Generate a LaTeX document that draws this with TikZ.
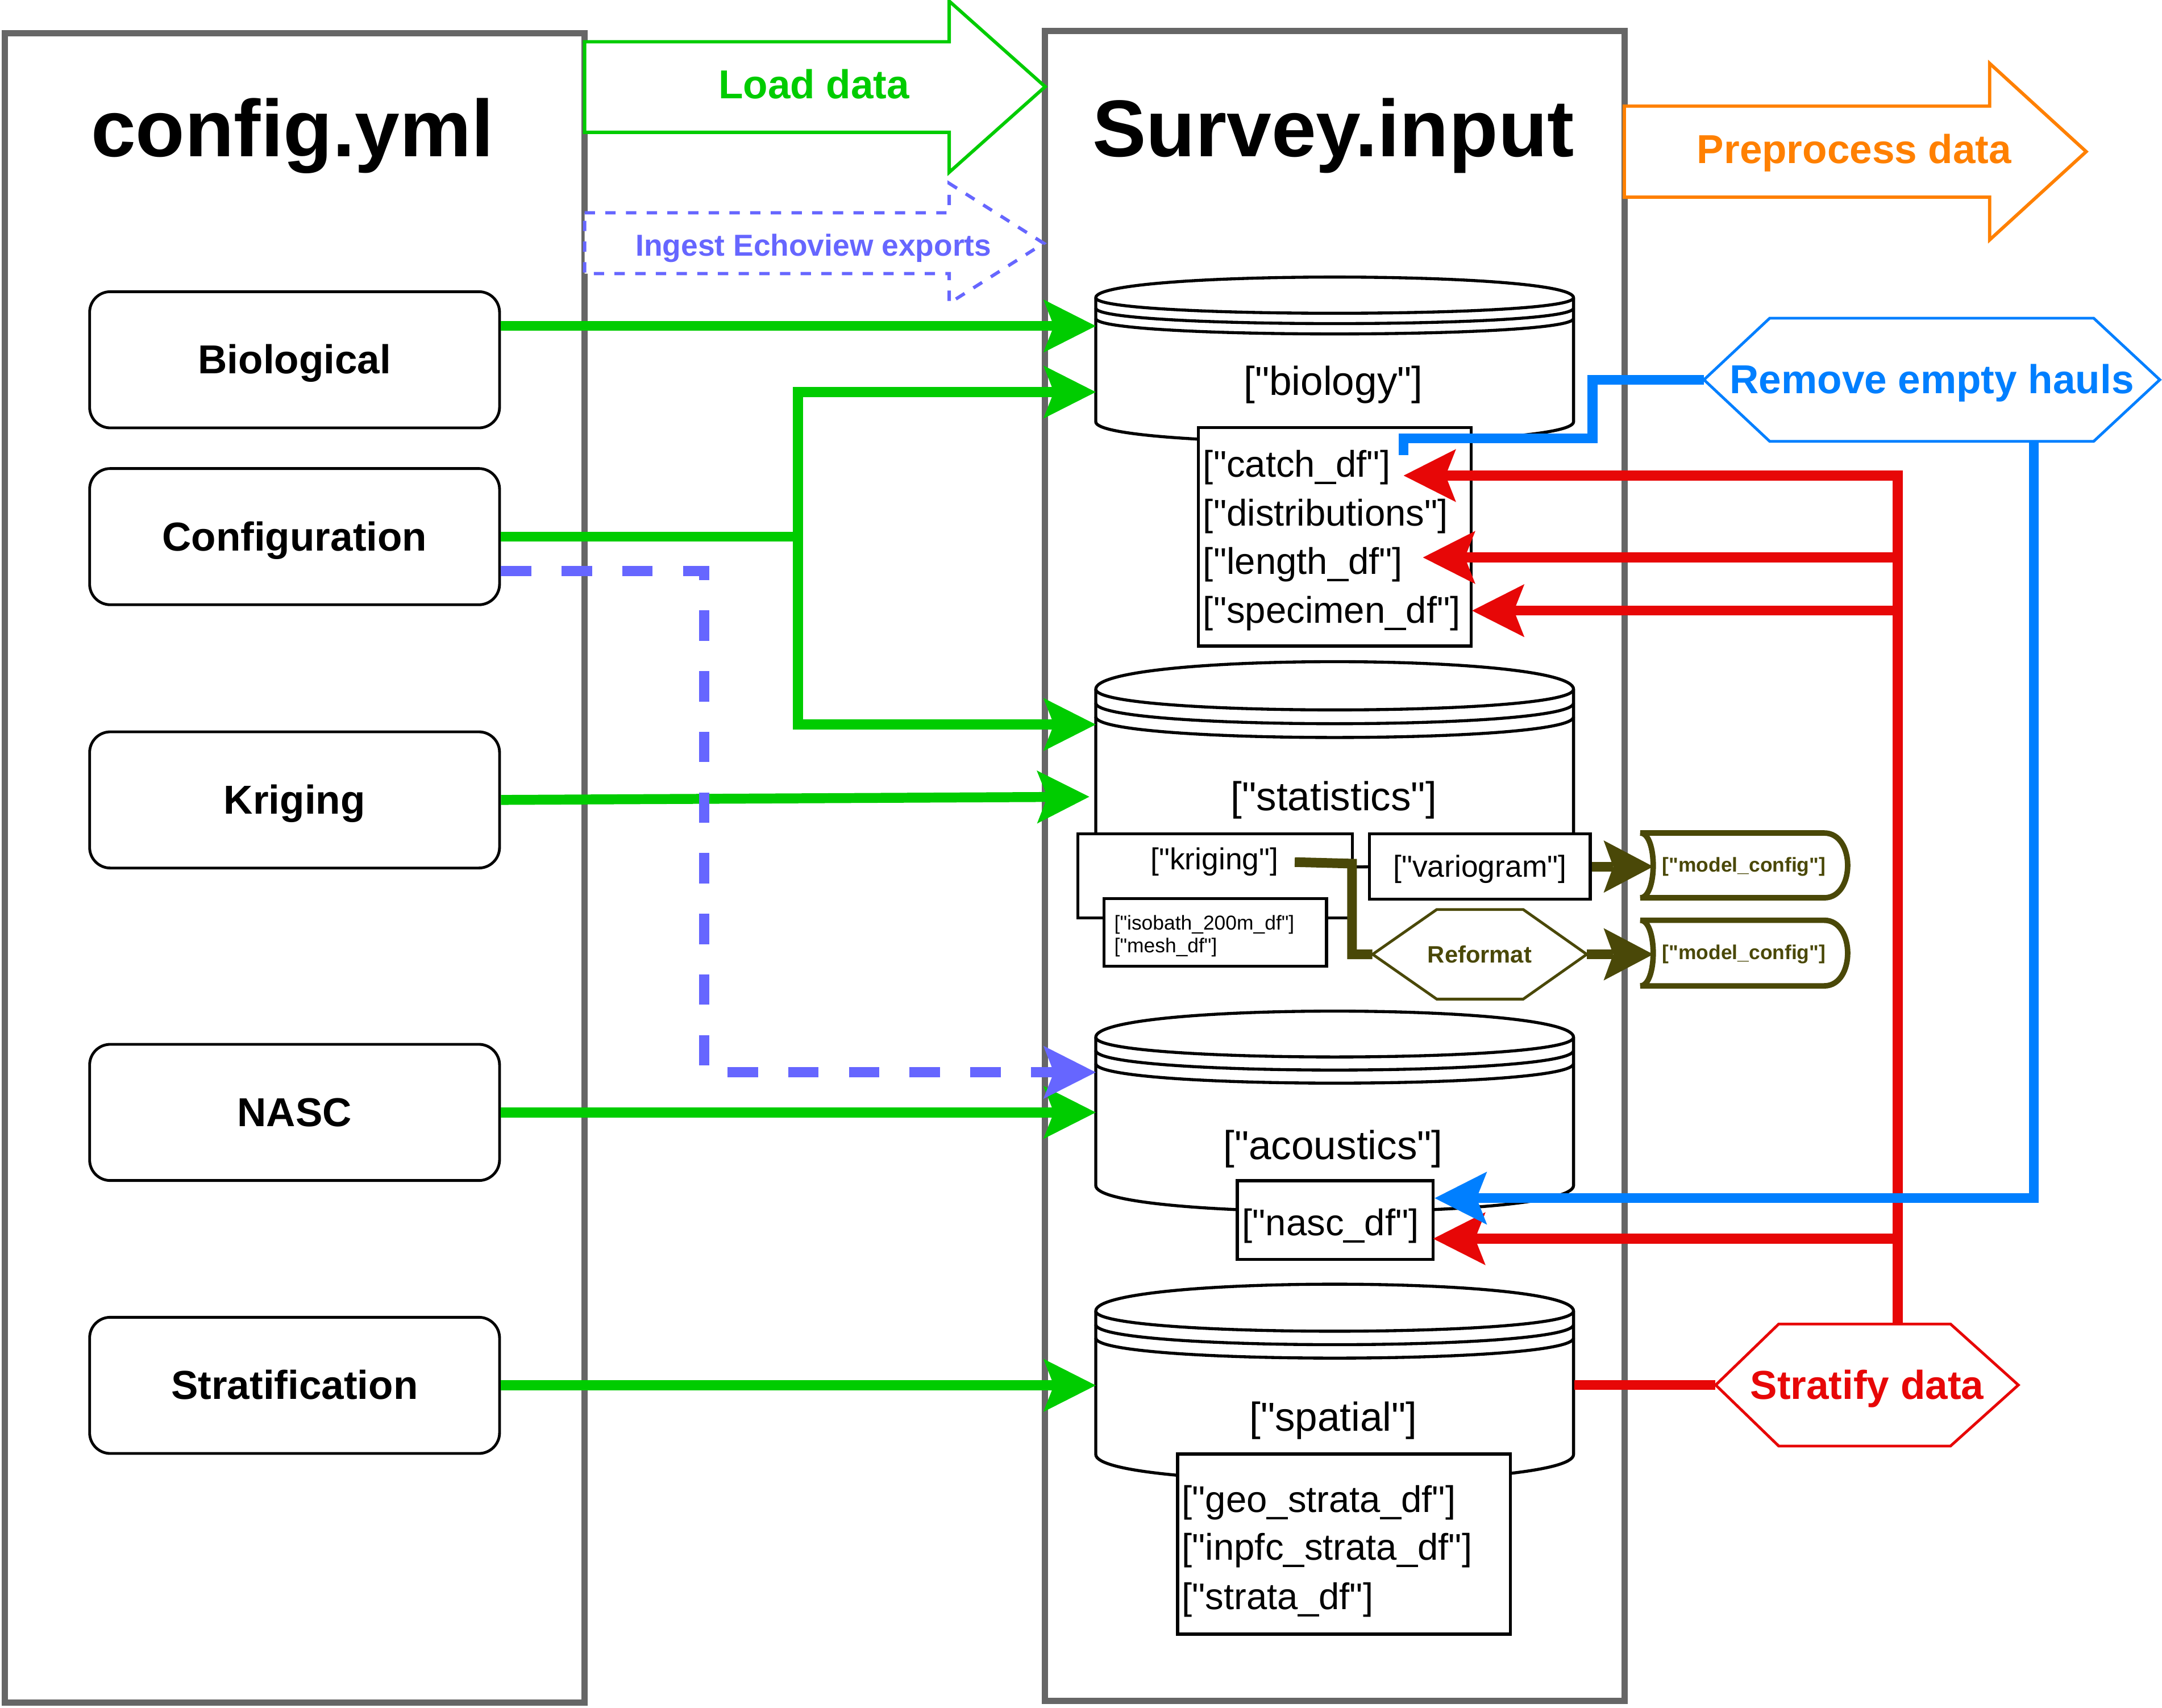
\documentclass[tikz,border=0pt]{standalone}
\usepackage{fontspec}
\setmainfont{Liberation Sans}[Ligatures=TeXOff]
\usetikzlibrary{arrows.meta,calc}
\definecolor{cpanel}{HTML}{666666}
\definecolor{cgreen}{HTML}{00CC00}
\definecolor{cviolet}{HTML}{6666FF}
\definecolor{corange}{HTML}{FF8000}
\definecolor{cblue}{HTML}{007FFF}
\definecolor{cred}{HTML}{E70707}
\definecolor{colive}{HTML}{4A4808}

\newcommand{\dstore}[5]{%
  \draw[cylbody] (#1,#2+#5) .. controls (#1,#2-#5/3) and (#1+#3,#2-#5/3) .. (#1+#3,#2+#5)
     -- (#1+#3,#2+#4-#5) .. controls (#1+#3,#2+#4+#5/3) and (#1,#2+#4+#5/3) .. (#1,#2+#4-#5) -- cycle;
  \draw[cylline] (#1,#2+#5) .. controls (#1,#2+2*#5) and (#1+#3,#2+2*#5) .. (#1+#3,#2+#5);
  \draw[cylline] (#1,#2+1.5*#5) .. controls (#1,#2+2.5*#5) and (#1+#3,#2+2.5*#5) .. (#1+#3,#2+1.5*#5);
  \draw[cylline] (#1,#2+2*#5) .. controls (#1,#2+3*#5) and (#1+#3,#2+3*#5) .. (#1+#3,#2+2*#5);
}

\tikzset{
  panel/.style={draw=cpanel, line width=4.5pt},
  bigarrow/.style={line width=2.4pt, fill=white, line join=miter},
  tbig/.style={font=\bfseries\fontsize{58.4}{70}\selectfont, text height=52.9pt, text depth=12.4pt, inner sep=0pt},
  tb29/.style={font=\bfseries\fontsize{29.3}{35}\selectfont, text height=26.5pt, text depth=6.2pt, inner sep=0pt},
  tr29/.style={font=\fontsize{29.3}{35}\selectfont, text height=26.5pt, text depth=6.2pt, inner sep=0pt},
  tr27/.style={font=\fontsize{26.9}{32}\selectfont, text height=24.3pt, text depth=5.7pt, inner sep=0pt},
  tr22/.style={font=\fontsize{22}{26}\selectfont, text height=19.9pt, text depth=4.7pt, inner sep=0pt},
  tb22/.style={font=\bfseries\fontsize{22}{26}\selectfont, text height=19.9pt, text depth=4.7pt, inner sep=0pt},
  tb17/.style={font=\bfseries\fontsize{17.2}{21}\selectfont, text height=15.6pt, text depth=3.6pt, inner sep=0pt},
  tr15/.style={font=\fontsize{14.6}{17}\selectfont, text height=13.2pt, text depth=3.1pt, inner sep=0pt},
  tb15/.style={font=\bfseries\fontsize{14.6}{17}\selectfont, text height=13.2pt, text depth=3.1pt, inner sep=0pt},
  cfgbox/.style={tb29, draw=black, line width=2pt, rounded corners=15pt, fill=white, minimum width=297.3pt, minimum height=98.8pt},
  cylbody/.style={draw=black, line width=2.2pt, fill=white},
  cylline/.style={draw=black, line width=2.2pt},
  holder/.style={inner sep=0pt, draw=none},
  subbox/.style={draw=black, line width=2.2pt, fill=white, inner sep=0pt},
  hexa/.style={line width=2pt, fill=white, line join=miter},
  mcshape/.style={draw=colive, line width=4pt, fill=white},
  bigtip/.tip={Stealth[length=38pt, width=38.5pt, inset=7.6pt, line width=0pt]},
  otip/.tip={Stealth[length=36pt, width=38pt, inset=7pt, line width=0pt]},
  gline/.style={draw=cgreen, line width=7.2pt},
  garrow/.style={gline, -bigtip},
  darrow/.style={draw=cviolet, line width=7.2pt, dash pattern=on 22pt off 22pt, -bigtip},
  rline/.style={draw=cred, line width=7.2pt},
  rarrow/.style={rline, -bigtip},
  bline/.style={draw=cblue, line width=7.2pt},
  barrow/.style={bline, -bigtip},
  oline/.style={draw=colive, line width=7pt},
  oarrow/.style={oline, -otip},
}

\begin{document}
\begin{tikzpicture}[x=1pt, y=-1pt]
\useasboundingbox (0,0) rectangle (1568,1239);

% panels
\draw[panel] (3.6,24) rectangle (423.9,1235);
\draw[panel] (758,22.5) rectangle (1178.3,1233.8);

% big process arrows
\draw[bigarrow, draw=cgreen] (424,30.3) -- (688.4,30.3) -- (688.4,0.8) -- (758,62.9) -- (688.4,125) -- (688.4,96) -- (424,96) -- cycle;
\node[tb29, text=cgreen] (load) at (590.3,61.45) {Load data};
\draw[bigarrow, draw=cviolet, dash pattern=on 7.5pt off 7.5pt] (424,154.4) -- (688.4,154.4) -- (688.4,133) -- (757,176.5) -- (688.4,220) -- (688.4,198.5) -- (424,198.5) -- cycle;
\node[tb22, text=cviolet] (ingest) at (590,178) {Ingest Echoview exports};
\draw[bigarrow, draw=corange] (1178,77) -- (1443,77) -- (1443,46) -- (1513,110) -- (1443,174) -- (1443,143) -- (1178,143) -- cycle;
\node[tb29, text=corange] (prep) at (1344.8,108.5) {Preprocess data};

% titles
\node[tbig] (cfgtitle) at (212,93.35) {config.yml};
\node[tbig] (svtitle) at (967,93.35) {Survey.input};

% config boxes
\node[cfgbox] (biolog) at (213.65,261) {Biological};
\node[cfgbox] (cfg) at (213.65,389.3) {Configuration};
\node[cfgbox] (kri) at (213.65,580.3) {Kriging};
\node[cfgbox] (nasc) at (213.65,807) {NASC};
\node[cfgbox] (stra) at (213.65,1005) {Stratification};

% data stores
\dstore{794.7}{201}{346.5}{120}{15}
\dstore{794.7}{480}{346.5}{149}{20}
\dstore{794.7}{733.5}{346.5}{145.5}{19}
\dstore{794.7}{931.6}{346.5}{143}{19.5}
\node[holder, minimum width=346.5pt, minimum height=120pt, anchor=north west] (bio) at (794.7,201) {};
\node[holder, minimum width=346.5pt, minimum height=149pt, anchor=north west] (stat) at (794.7,480) {};
\node[holder, minimum width=346.5pt, minimum height=145.5pt, anchor=north west] (acou) at (794.7,733.5) {};
\node[holder, minimum width=346.5pt, minimum height=143pt, anchor=north west] (spat) at (794.7,931.6) {};
\node[tr29] (biolbl) at (967,276.4) {["biology"]};
\node[tr29] (statlbl) at (967.3,578) {["statistics"]};
\node[tr29] (acoulbl) at (966.8,831.1) {["acoustics"]};
\node[tr29] (spatlbl) at (967,1028.1) {["spatial"]};

% biology list
\node[subbox, minimum width=198pt, minimum height=158.5pt] (biolist) at (968,389.45) {};
\node[tr27, anchor=west] (lcatch) at (872.4,336.7) {["catch\_df"]};
\node[tr27, anchor=west] (ldist) at (872.4,372) {["distributions"]};
\node[tr27, anchor=west] (llen) at (872.4,407.3) {["length\_df"]};
\node[tr27, anchor=west] (lspec) at (872.4,442.6) {["specimen\_df"]};

% statistics children
\node[subbox, minimum width=199.1pt, minimum height=61pt] (kribox) at (881.15,635.5) {};
\node[tr22] (krilbl) at (880.8,623.4) {["kriging"]};
\node[subbox, tr22, draw=black, line width=2.2pt, fill=white, minimum width=160pt, minimum height=47.3pt] (vario) at (1073.3,628.65) {["variogram"]};
\node[subbox, minimum width=161.3pt, minimum height=49.1pt] (isobox) at (881.35,676.45) {};
\node[tr15, anchor=west] (liso) at (808,669.4) {["isobath\_200m\_df"]};
\node[tr15, anchor=west] (lmesh) at (808,685.8) {["mesh\_df"]};

% acoustics child
\node[subbox, minimum width=142pt, minimum height=56.9pt] (nascbox) at (968.4,885.05) {};
\node[tr27] (nasclbl) at (965,887) {["nasc\_df"]};

% spatial list
\node[subbox, minimum width=241.3pt, minimum height=130.7pt] (spatbox) at (974.65,1120.15) {};
\node[tr27, anchor=west] (lgeo) at (857,1087.7) {["geo\_strata\_df"]};
\node[tr27, anchor=west] (linp) at (857,1122.5) {["inpfc\_strata\_df"]};
\node[tr27, anchor=west] (lstr) at (857,1158.3) {["strata\_df"]};

% hexagons
\draw[hexa, draw=cblue] (1235.8,275.5) -- (1283.5,230.8) -- (1518.4,230.8) -- (1566.4,275.5) -- (1518.4,320.2) -- (1283.5,320.2) -- cycle;
\node[tb29, text=cblue, minimum width=330.6pt, minimum height=89.4pt] (hauls) at (1401.1,275.5) {Remove empty hauls};
\draw[hexa, draw=cred] (1244.3,1004.75) -- (1290,960.5) -- (1414.6,960.5) -- (1463.8,1004.75) -- (1414.6,1049) -- (1290,1049) -- cycle;
\node[tb29, text=cred, minimum width=219.5pt, minimum height=88.5pt] (strat) at (1354.05,1004.75) {Stratify data};
\draw[hexa, draw=colive] (995.5,692.3) -- (1042,659.8) -- (1104.7,659.8) -- (1150.8,692.3) -- (1104.7,724.8) -- (1042,724.8) -- cycle;
\node[tb17, text=colive, minimum width=155.3pt, minimum height=65pt] (reform) at (1073.15,692.3) {Reformat};

% model_config stores
\draw[mcshape] (1189.6,604.3) -- (1323,604.3) .. controls (1345.7,604.3) and (1345.7,651.3) .. (1323,651.3) -- (1189.6,651.3) .. controls (1202.1,651.3) and (1202.1,604.3) .. (1189.6,604.3) -- cycle;
\node[tb15, text=colive, minimum width=150.4pt, minimum height=47pt] (mc1) at (1264.8,627.3) {["model\_config"]};
\draw[mcshape] (1189.6,667.6) -- (1323,667.6) .. controls (1345.7,667.6) and (1345.7,715.2) .. (1323,715.2) -- (1189.6,715.2) .. controls (1202.1,715.2) and (1202.1,667.6) .. (1189.6,667.6) -- cycle;
\node[tb15, text=colive, minimum width=150.4pt, minimum height=47.6pt] (mc2) at (1264.8,690.8) {["model\_config"]};

% coordinates for connector ends
\coordinate (gbio1) at (794.7,236.5);
\coordinate (jct) at (578.8,389.3);
\coordinate (gbio2) at (794.7,284.4);
\coordinate (gsta1) at (794.7,525.6);
\coordinate (gsta2) at (790,578);
\coordinate (dv) at (510.7,777.9);
\coordinate (dacou) at (794.7,777.9);
\coordinate (rtc) at (1376.3,345);
\coordinate (tcatch) at (1018,345);
\coordinate (tlen) at (1032,404.4);
\coordinate (tspec) at (1067.6,443);
\coordinate (tnasc) at (1039.4,898.6);
\coordinate (bc1) at (1155,275.5);
\coordinate (bc2) at (1018,318);
\coordinate (bend) at (1018,330);
\coordinate (bv) at (1475,869.2);
\coordinate (ok1) at (939,625.4);
\coordinate (ok2) at (980.6,626.5);
\coordinate (mcin) at (1199,629);

% green load connectors
\draw[garrow] (biolog.east |- gbio1) -- (gbio1);
\draw[garrow] (cfg.east) -- (jct) |- (gbio2);
\draw[garrow] (cfg.east) -- (jct) |- (gsta1);
\draw[garrow] (kri.east) -- (gsta2);
\draw[garrow] (nasc.east) -- (nasc.east -| acou.west);
\draw[garrow] (stra.east) -- (stra.east -| spat.west);
% dashed echoview connector
\draw[darrow] ($(cfg.east)+(0,25)$) -| (dv) -- (dacou);

% red stratify connectors
\draw[rline] (spat.east |- strat.west) -- (strat.west);
\draw[rarrow] (strat.north -| rtc) -- (rtc) -- (tcatch);
\draw[rarrow] (rtc |- tlen) -- (tlen);
\draw[rarrow] (rtc |- tspec) -- (tspec);
\draw[rarrow] (rtc |- tnasc) -- (tnasc);

% blue haul connectors
\draw[bline] (hauls.west) -- (bc1) |- (bc2) -- (bend);
\draw[barrow] (hauls.south -| bv) -- (bv) -- (nascbox.east |- bv);

% olive kriging connectors
\draw[oline] (ok1) -- (ok2) |- (reform.west);
\draw[oarrow] (vario.east) -- (vario.east -| mcin);
\draw[oarrow] (reform.east) -- (reform.east -| mcin);
\end{tikzpicture}
\end{document}
